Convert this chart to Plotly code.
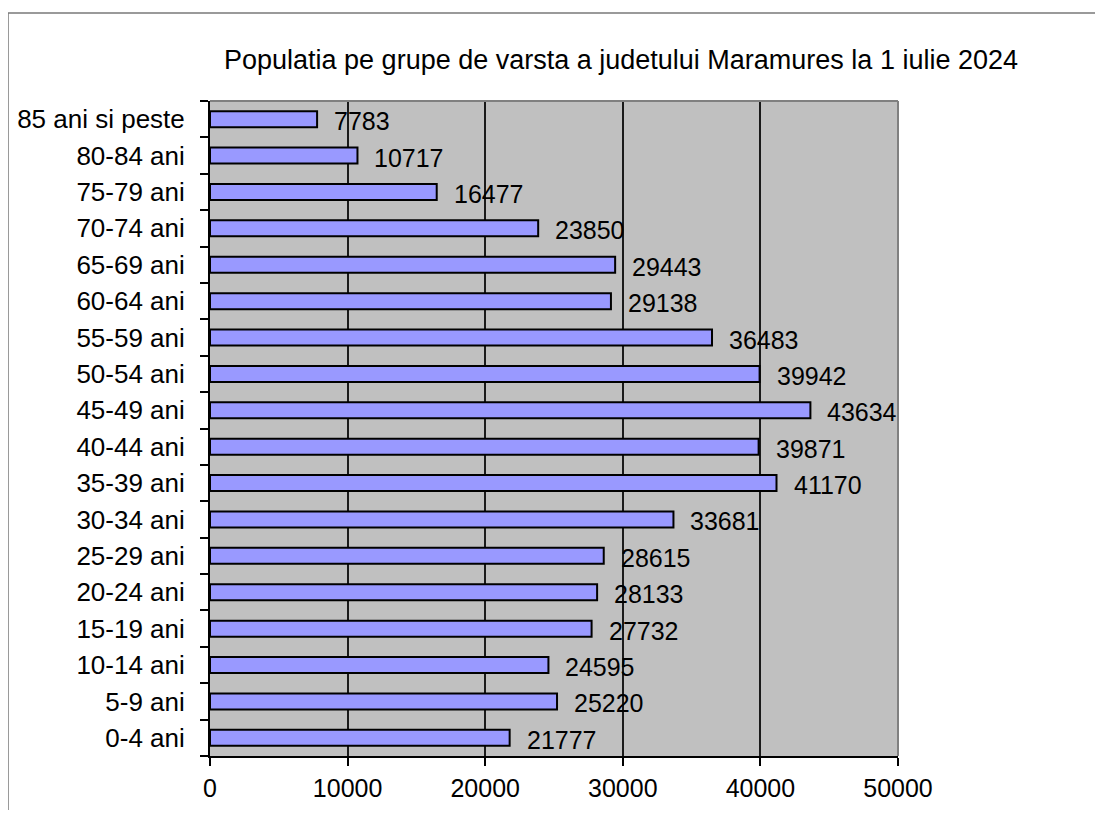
import plotly.graph_objects as go

categories = ["0-4 ani", "5-9 ani", "10-14 ani", "15-19 ani", "20-24 ani", "25-29 ani",
              "30-34 ani", "35-39 ani", "40-44 ani", "45-49 ani", "50-54 ani", "55-59 ani",
              "60-64 ani", "65-69 ani", "70-74 ani", "75-79 ani", "80-84 ani", "85 ani si peste"]
values = [21777, 25220, 24595, 27732, 28133, 28615, 33681, 41170, 39871, 43634,
          39942, 36483, 29138, 29443, 23850, 16477, 10717, 7783]
x_ticks = [0, 10000, 20000, 30000, 40000, 50000]
title_text = "Populatia pe grupe de varsta a judetului Maramures la 1 iulie 2024"

FONT = "Liberation Sans, Arial, sans-serif"
OFF = 8  # page body margin
W, H = 1103 - 2 * OFF, 818 - 2 * OFF
L = 210 - OFF
T = 101 - OFF
R = W - (898 - OFF)
B = H - (756 - OFF)
pw, ph = W - L - R, H - T - B

def px_x(p):
    # page pixel x -> paper fraction
    return (p - OFF - L) / pw

def px_y(p):
    # page pixel y -> paper fraction
    return (H - B - (p - OFF)) / ph

fig = go.Figure()
fig.add_trace(go.Bar(
    x=values, y=categories, orientation="h", width=0.44,
    marker=dict(color="#9999FF", line=dict(color="black", width=2)),
    hoverinfo="x+y",
))

annotations = []
for c, v in zip(categories, values):
    annotations.append(dict(
        x=v, y=c, xref="x", yref="y", text=str(v), showarrow=False,
        xanchor="left", yanchor="middle", xshift=15, yshift=-2,
        font=dict(family=FONT, size=25, color="black"),
    ))

shapes = [
    # outer chart border
    dict(type="rect", xref="paper", yref="paper",
         x0=px_x(8), x1=px_x(1300), y0=px_y(1000), y1=px_y(13),
         line=dict(color="#7a7a7a", width=1.5), fillcolor="rgba(0,0,0,0)", layer="below"),
    # plot area top & right border
    dict(type="line", xref="paper", yref="paper", x0=0, x1=1, y0=1, y1=1,
         line=dict(color="#808080", width=2), layer="above"),
    dict(type="line", xref="paper", yref="paper", x0=1, x1=1, y0=0, y1=1,
         line=dict(color="#808080", width=2), layer="above"),
]

fig.update_layout(
    width=W, height=H,
    margin=dict(l=L, r=R, t=T, b=B, autoexpand=False),
    paper_bgcolor="white", plot_bgcolor="#C0C0C0",
    showlegend=False,
    font=dict(family=FONT, size=24, color="black"),
    title=dict(text=title_text, x=(621 - OFF) / W, xanchor="center",
               y=1 - (60 - OFF) / H, yanchor="middle",
               font=dict(family=FONT, size=27, color="black")),
    annotations=annotations,
    shapes=shapes,
)

fig.update_xaxes(
    range=[0, 50000], tickvals=x_ticks, ticktext=[str(t) for t in x_ticks],
    showgrid=True, gridcolor="#1a1a1a", gridwidth=1.5,
    zeroline=False, showline=True, linecolor="black", linewidth=2,
    ticks="outside", ticklen=8, tickcolor="black", tickwidth=1.5,
    tickfont=dict(family=FONT, size=25, color="black"),
    ticklabelstandoff=1, automargin=False,
)
fig.update_yaxes(
    categoryorder="array", categoryarray=categories,
    showgrid=False, zeroline=False, showline=True, linecolor="black", linewidth=2,
    ticks="outside", tickson="boundaries", ticklen=8, tickcolor="black", tickwidth=1.5,
    tickfont=dict(family=FONT, size=26, color="black"),
    ticklabelstandoff=18, automargin=False,
)

fig.write_html("out.html")
